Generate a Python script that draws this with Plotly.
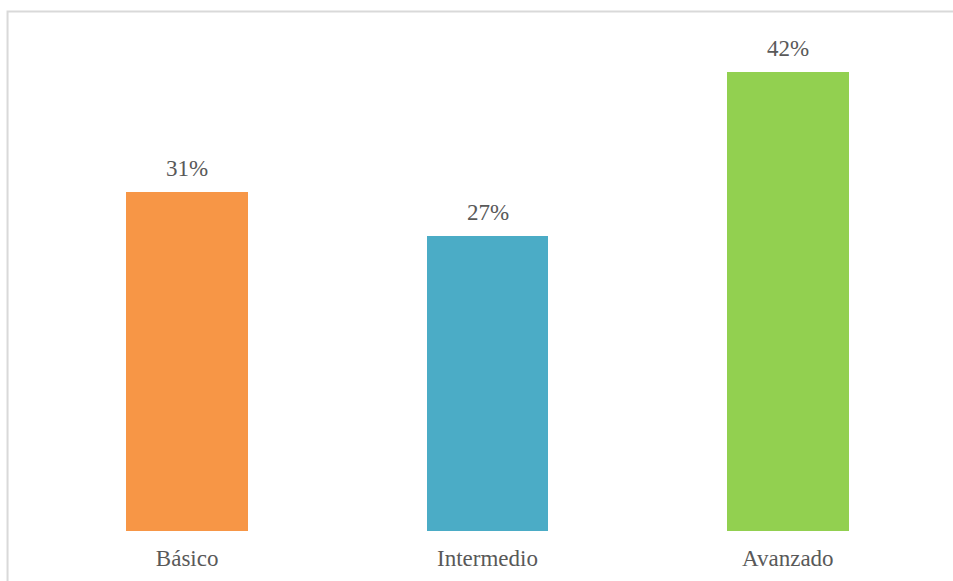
import plotly.graph_objects as go

# Distribution of levels
categories = ["Básico", "Intermedio", "Avanzado"]
shares = [0.31, 0.27, 0.42]
bar_colors = ["#F79646", "#4BACC6", "#92D050"]

text_font = dict(family="Liberation Serif", size=23, color="#595959")

fig = go.Figure(
    go.Bar(
        x=categories,
        y=shares,
        marker=dict(color=bar_colors, line=dict(width=0)),
        width=0.406,
        hoverinfo="skip",
    )
)

# Value labels above each bar
for cat, val in zip(categories, shares):
    fig.add_annotation(
        x=cat, y=val, text=f"{round(val * 100)}%",
        showarrow=False, yanchor="bottom", yshift=9,
        font=text_font,
    )

# Light frame around the chart area
fig.add_shape(
    type="rect", xref="paper", yref="paper",
    x0=-0.0327, x1=1.2, y0=-0.3, y1=1.0559,
    line=dict(color="#D9D9D9", width=2), fillcolor="rgba(0,0,0,0)",
    layer="below",
)

fig.update_layout(
    width=953, height=581,
    margin=dict(l=37, r=15, t=39, b=50),
    paper_bgcolor="white", plot_bgcolor="white",
    showlegend=False,
    bargap=0,
    font=text_font,
    xaxis=dict(
        range=[-0.5, 2.5], showgrid=False, zeroline=False, showline=False,
        ticks="", tickfont=text_font, ticklabelstandoff=11, automargin=False,
    ),
    yaxis=dict(
        range=[0, 0.45], visible=False, showgrid=False, zeroline=False,
        automargin=False,
    ),
)

fig.write_html("out.html")
